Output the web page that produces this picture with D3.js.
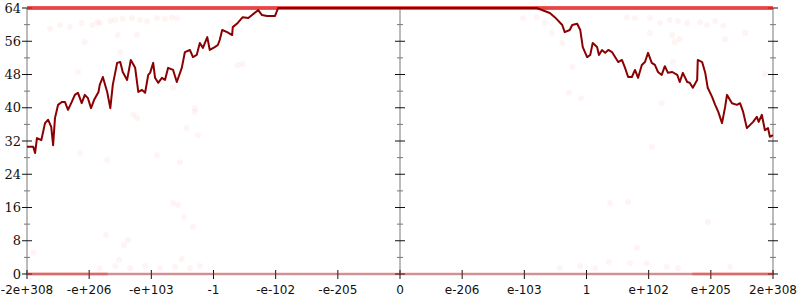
<!DOCTYPE html>
<html>
<head>
<meta charset="utf-8">
<script src="https://cdn.jsdelivr.net/npm/d3@7.9.0/dist/d3.min.js"></script>
<style>
  body { margin: 0; background: #fff; }
</style>
</head>
<body>
<svg id="chart" width="800" height="300"></svg>
<script>
// x axis: 13 evenly spaced ticks, domain index -6..6
const xTickLabels = ['-2e+308', '-e+206', '-e+103', '-1', '-e-102', '-e-205', '0',
  'e-206', 'e-103', '1', 'e+102', 'e+205', '2e+308'];
const yTicks = [0, 8, 16, 24, 32, 40, 48, 56, 64];
const yMinorTicks = [4, 12, 20, 28, 36, 44, 52, 60];

// main line (dark red)
const lineX = [-6.00, -5.90, -5.87, -5.84, -5.77, -5.71, -5.66, -5.61, -5.58, -5.55,
  -5.50, -5.44, -5.39, -5.34, -5.28, -5.23, -5.18, -5.12, -5.07, -5.02,
  -4.97, -4.92, -4.85, -4.83, -4.78, -4.71, -4.66, -4.62, -4.55, -4.50,
  -4.46, -4.39, -4.33, -4.26, -4.21, -4.15, -4.10, -4.05, -4.02, -3.97,
  -3.94, -3.89, -3.83, -3.78, -3.73, -3.65, -3.59, -3.51, -3.46, -3.38,
  -3.33, -3.27, -3.22, -3.17, -3.10, -3.06, -2.98, -2.93, -2.90, -2.86,
  -2.78, -2.70, -2.69, -2.61, -2.53, -2.44, -2.38, -2.28, -2.22, -2.14,
  -2.01, -1.96, 2.20, 2.41, 2.49, 2.61, 2.65, 2.73, 2.77, 2.85,
  2.90, 2.94, 3.01, 3.06, 3.10, 3.17, 3.20, 3.25, 3.30, 3.35,
  3.41, 3.46, 3.51, 3.57, 3.62, 3.67, 3.73, 3.78, 3.83, 3.89,
  3.94, 3.99, 4.05, 4.10, 4.15, 4.21, 4.26, 4.31, 4.38, 4.46,
  4.50, 4.55, 4.62, 4.66, 4.71, 4.78, 4.79, 4.86, 4.91, 4.95,
  5.02, 5.07, 5.12, 5.18, 5.23, 5.26, 5.34, 5.42, 5.47, 5.52,
  5.58, 5.68, 5.74, 5.77, 5.82, 5.87, 5.92, 5.95, 6.00];
const lineY = [30.6, 30.6, 29.1, 32.7, 32.2, 36.3, 37.1, 35.4, 31.0, 37.5,
  40.7, 41.4, 41.4, 39.5, 41.4, 43.1, 43.6, 41.1, 43.1, 42.3,
  39.9, 41.9, 43.8, 45.5, 47.4, 43.8, 39.9, 45.5, 50.8, 51.0,
  48.6, 46.7, 51.5, 49.6, 43.8, 44.3, 43.6, 47.9, 48.4, 50.8,
  47.2, 46.0, 47.2, 46.7, 49.6, 49.1, 46.2, 49.6, 53.4, 53.9,
  52.2, 52.7, 55.6, 54.4, 57.0, 53.9, 54.6, 55.1, 56.3, 58.7,
  58.2, 57.5, 59.4, 60.4, 61.8, 61.6, 62.3, 63.5, 62.3, 62.1,
  62.1, 64.0, 64.0, 62.8, 61.8, 59.9, 58.2, 58.7, 59.9, 60.2,
  58.7, 54.6, 52.2, 52.7, 55.6, 54.6, 52.7, 53.9, 53.2, 53.9,
  53.4, 52.2, 51.0, 51.5, 49.6, 47.4, 47.4, 49.1, 47.2, 50.3,
  51.0, 53.2, 50.8, 50.3, 48.6, 47.9, 50.0, 48.4, 48.6, 47.9,
  46.2, 48.4, 46.2, 46.0, 44.8, 46.7, 51.5, 51.0, 48.4, 44.8,
  42.6, 40.7, 39.0, 36.3, 40.2, 43.1, 41.1, 40.7, 41.1, 39.0,
  35.1, 36.6, 37.8, 36.6, 38.3, 34.6, 35.1, 33.0, 33.4];

// dense sample bands along 64 and 0
const bandY = [64, 0, 0, 0];
const bandFrom = [-6, -6, -4.7, 4.7];
const bandTo = [6, -4.7, 4.7, 6];
const bandDensity = [0.75, 0.5, 0.25, 0.5];

// scattered faint samples
const dotX = [-5.63, -5.47, -5.31, -5.12, -5.07, -4.95, -4.87, -4.83, -4.66, -4.58,
  -4.46, -4.31, -4.18, -4.07, -3.91, -3.78, -3.67, -3.59, -4.54, -4.23,
  -4.50, -5.18, -3.65, -2.73, -2.61, -2.53, -3.30, -5.15, -4.71, -4.29,
  -4.23, -3.91, -3.54, -3.43, -3.30, -3.25, -4.73, -4.38, -4.44, -4.52,
  -5.90, -3.65, -3.57, -3.47, -3.33, -3.51,
  -4.83, -4.58, -4.34, -4.10, -3.86, -3.62, -3.38, -3.22,
  1.98, 2.20, 2.33, 2.44, 2.61, 2.77, 2.72, 2.91, 3.65, 3.78,
  4.02, 4.18, 4.34, 4.47, 4.62, 4.83, 4.94, 5.07, 5.20, 4.02,
  4.38, 4.50, 4.42, 5.23, 5.55, 4.39, 5.87, 4.21, 4.05, 3.38,
  3.67, 3.81, 4.95, 3.36, 3.70, 3.97, 4.29, 4.47, 5.31,
  2.57, 2.90, 3.14];
const dotY = [59.0, 59.9, 59.4, 60.4, 55.8, 59.9, 60.6, 60.4, 60.9, 61.1,
  61.4, 61.6, 61.1, 60.9, 61.6, 61.4, 61.8, 61.6, 57.5, 57.5,
  53.4, 48.6, 44.8, 60.4, 50.3, 50.5, 39.9, 29.1, 27.4, 38.3,
  37.5, 28.6, 26.9, 35.1, 39.0, 33.4, 9.4, 8.2, 7.0, 3.4,
  5.1, 17.1, 16.6, 13.7, 11.3, 3.6,
  1.4, 1.9, 1.4, 1.9, 1.4, 1.7, 1.4, 1.9,
  61.6, 61.8, 60.4, 58.0, 55.6, 49.8, 43.6, 42.3, 61.8, 61.6,
  61.6, 60.4, 61.1, 60.9, 60.4, 60.6, 59.9, 60.9, 59.7, 58.0,
  57.5, 56.5, 55.8, 56.5, 58.0, 51.0, 48.1, 41.1, 30.6, 17.1,
  17.3, 6.3, 12.5, 2.9, 2.6, 2.6, 1.7, 1.4, 1.7,
  1.4, 1.9, 1.4];

const svg = d3.select('#chart');
const plotLeft = 27, plotRight = 773, plotTop = 8, plotBottom = 274;

const x = d3.scaleLinear().domain([-6, 6]).range([plotLeft, plotRight]);
const y = d3.scaleLinear().domain([0, 64]).range([plotBottom, plotTop]);
const xTickVals = xTickLabels.map((d, i) => i - 6);

// axis lines (light gray)
const axisColor = '#bbbbbb';
[-6, 0, 6].forEach(v => {
  svg.append('line')
    .attr('x1', x(v)).attr('x2', x(v))
    .attr('y1', y(64)).attr('y2', y(0))
    .attr('stroke', axisColor).attr('stroke-width', 2);
});
[0, 64].forEach(v => {
  svg.append('line')
    .attr('x1', x(-6)).attr('x2', x(6))
    .attr('y1', y(v)).attr('y2', y(v))
    .attr('stroke', axisColor).attr('stroke-width', 2);
});

// y ticks on left, centre and right
[-6, 0, 6].forEach(v => {
  const g = svg.append('g');
  g.selectAll('line.major').data(yTicks).join('line')
    .attr('class', 'major')
    .attr('x1', x(v) - 5).attr('x2', x(v) + 5)
    .attr('y1', d => y(d)).attr('y2', d => y(d))
    .attr('stroke', '#111').attr('stroke-width', 1);
  g.selectAll('line.minor').data(yMinorTicks).join('line')
    .attr('class', 'minor')
    .attr('x1', x(v) - 3).attr('x2', x(v) + 3)
    .attr('y1', d => y(d)).attr('y2', d => y(d))
    .attr('stroke', '#777').attr('stroke-width', 1);
});

// x ticks
svg.append('g').selectAll('line').data(xTickVals).join('line')
  .attr('x1', d => x(d)).attr('x2', d => x(d))
  .attr('y1', y(0) - 4).attr('y2', y(0) + 5)
  .attr('stroke', '#111').attr('stroke-width', 1);

// sample bands
bandY.forEach((b, i) => {
  svg.append('path')
    .datum([[bandFrom[i], b], [bandTo[i], b]])
    .attr('d', d3.line().x(d => x(d[0])).y(d => y(d[1])))
    .attr('stroke', '#ee2020')
    .attr('stroke-width', b > 0 ? 4 : 3)
    .attr('stroke-opacity', bandDensity[i])
    .attr('fill', 'none');
});

// scattered dots
svg.append('g').selectAll('circle').data(dotX.map((d, i) => [d, dotY[i]])).join('circle')
  .attr('cx', d => x(d[0])).attr('cy', d => y(d[1]))
  .attr('r', 3)
  .attr('fill', '#ff2020')
  .attr('fill-opacity', 0.05);

// main line
svg.append('path')
  .datum(lineX.map((d, i) => [d, lineY[i]]))
  .attr('d', d3.line().x(d => x(d[0])).y(d => y(d[1])))
  .attr('fill', 'none')
  .attr('stroke', '#8b0000')
  .attr('stroke-width', 2)
  .attr('stroke-linejoin', 'round');

// y labels
svg.append('g').selectAll('text').data(yTicks).join('text')
  .attr('x', plotLeft - 6).attr('y', d => y(d))
  .attr('dy', '0.35em')
  .attr('text-anchor', 'end')
  .attr('font-family', 'DejaVu Serif')
  .attr('font-size', 13)
  .attr('fill', '#111')
  .text(d => d);

// x labels
svg.append('g').selectAll('text').data(xTickVals).join('text')
  .attr('x', d => x(d)).attr('y', 294)
  .attr('text-anchor', 'middle')
  .attr('font-family', 'DejaVu Sans')
  .attr('font-size', 12)
  .attr('fill', '#111')
  .text((d, i) => xTickLabels[i]);
</script>
</body>
</html>
